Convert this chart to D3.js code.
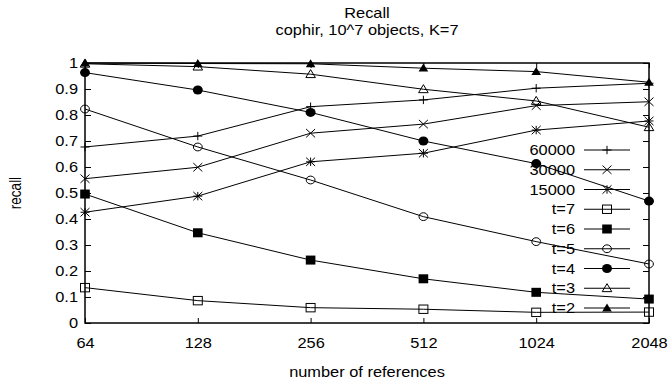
<!DOCTYPE html>
<html>
<head>
<meta charset="utf-8">
<script src="https://cdn.jsdelivr.net/npm/d3@7"></script>
<style>
  body { margin: 0; background: #fff; }
  svg { display: block; font-family: "Liberation Sans", Arial, sans-serif; }
</style>
</head>
<body>
<svg id="chart" width="668" height="386"></svg>
<script>
const refs = [64, 128, 256, 512, 1024, 2048];
const yTicks = [0, 0.1, 0.2, 0.3, 0.4, 0.5, 0.6, 0.7, 0.8, 0.9, 1];
const yTickLabels = ['0', '0.1', '0.2', '0.3', '0.4', '0.5', '0.6', '0.7', '0.8', '0.9', '1'];

const names = ['60000', '30000', '15000', 't=7', 't=6', 't=5', 't=4', 't=3', 't=2'];
const markers = ['plus', 'cross', 'star', 'squareOpen', 'squareFilled', 'circleOpen', 'circleFilled', 'triangleOpen', 'triangleFilled'];

const r60000 = [0.677, 0.719, 0.832, 0.858, 0.903, 0.922];
const r30000 = [0.555, 0.599, 0.730, 0.765, 0.836, 0.851];
const r15000 = [0.426, 0.488, 0.620, 0.653, 0.742, 0.777];
const t7 = [0.136, 0.086, 0.059, 0.053, 0.041, 0.042];
const t6 = [0.496, 0.347, 0.242, 0.170, 0.118, 0.092];
const t5 = [0.823, 0.677, 0.550, 0.409, 0.313, 0.227];
const t4 = [0.963, 0.896, 0.810, 0.700, 0.613, 0.469];
const t3 = [0.997, 0.986, 0.957, 0.899, 0.854, 0.753];
const t2 = [1.000, 0.998, 0.997, 0.980, 0.967, 0.926];
const seriesValues = [r60000, r30000, r15000, t7, t6, t5, t4, t3, t2];

const svg = d3.select('#chart');
const margin = { left: 85, right: 19, top: 63, bottom: 63 };
const width = 668, height = 386;
const FONT = 14.5;
const SX = 1.13; // the original text is a little wider than tall

const x = d3.scaleLog().base(2)
    .domain([64, 2048])
    .range([margin.left, width - margin.right]);
const y = d3.scaleLinear()
    .domain([0, 1])
    .range([height - margin.bottom, margin.top]);
const cx = (x.range()[0] + x.range()[1]) / 2;

function label(px, py, txt, anchor, size) {
    return svg.append('g')
        .attr('transform', `translate(${px},${py}) scale(${SX},1)`)
        .append('text')
        .attr('text-anchor', anchor)
        .attr('font-size', size || FONT)
        .text(txt);
}

// titles
label(cx, 18, 'Recall', 'middle');
label(cx, 35, 'cophir, 10^7 objects, K=7', 'middle');

// axis labels
label(cx, 377, 'number of references', 'middle');
svg.append('text')
    .attr('transform', `translate(21,${(y.range()[0] + y.range()[1]) / 2}) scale(1.2,1) rotate(-90)`)
    .attr('text-anchor', 'middle')
    .attr('font-size', 13.5)
    .text('recall');

// axes with inward ticks on all sides
function styleAxis(g) {
    g.select('.domain').remove();
    g.selectAll('.tick line').attr('stroke', '#000').attr('stroke-width', 1);
    g.selectAll('.tick text')
        .attr('font-size', FONT).attr('fill', '#000')
        .attr('font-family', '"Liberation Sans", Arial, sans-serif')
        .attr('transform', `scale(${SX},1)`);
}

svg.append('g')
    .attr('transform', `translate(${margin.left},0)`)
    .call(d3.axisLeft(y).tickValues(yTicks).tickFormat((d, i) => yTickLabels[i]).tickSize(-6).tickPadding(7 / SX))
    .call(styleAxis);
svg.append('g')
    .attr('transform', `translate(${width - margin.right},0)`)
    .call(d3.axisRight(y).tickValues(yTicks).tickFormat('').tickSize(-6))
    .call(styleAxis);
svg.append('g')
    .attr('transform', `translate(0,${height - margin.bottom})`)
    .call(d3.axisBottom(x).tickValues(refs).tickFormat(d3.format('d')).tickSize(-5).tickPadding(15))
    .call(styleAxis);
svg.append('g')
    .attr('transform', `translate(0,${margin.top})`)
    .call(d3.axisTop(x).tickValues(refs).tickFormat('').tickSize(-5))
    .call(styleAxis);

// frame
svg.append('rect')
    .attr('x', x.range()[0])
    .attr('y', y.range()[1])
    .attr('width', x.range()[1] - x.range()[0])
    .attr('height', y.range()[0] - y.range()[1])
    .attr('fill', 'none')
    .attr('stroke', '#000')
    .attr('stroke-width', 1.5);

// marker shapes (gnuplot-like point types)
function drawMarker(g, type) {
    const hx = 4.5, hy = 4.2;
    const filled = type.endsWith('Filled');
    if (type === 'plus' || type === 'cross' || type === 'star') {
        let d = '';
        if (type !== 'cross') d += `M${-hx},0H${hx}M0,${-hy}V${hy}`;
        if (type !== 'plus') d += `M${-hx},${-hy}L${hx},${hy}M${-hx},${hy}L${hx},${-hy}`;
        g.append('path').attr('d', d).attr('stroke', '#000').attr('fill', 'none');
    } else if (type.startsWith('square')) {
        const w = filled ? 9.6 : 9, h = filled ? 9 : 8.4;
        g.append('rect')
            .attr('x', -w / 2).attr('y', -h / 2).attr('width', w).attr('height', h)
            .attr('fill', filled ? '#000' : 'none').attr('stroke', filled ? 'none' : '#000');
    } else if (type.startsWith('circle')) {
        g.append('ellipse')
            .attr('rx', filled ? 5 : 4.4).attr('ry', filled ? 4.5 : 3.9)
            .attr('fill', filled ? '#000' : 'none').attr('stroke', filled ? 'none' : '#000');
    } else {
        const w = 4.8;
        g.append('path')
            .attr('d', `M0,-4.6L${w},3.4L${-w},3.4Z`)
            .attr('fill', filled ? '#000' : 'none').attr('stroke', filled ? 'none' : '#000');
    }
}

const line = d3.line()
    .x((d, i) => x(refs[i]))
    .y(d => y(d));

const plot = svg.append('g');
seriesValues.forEach((vals, si) => {
    plot.append('path')
        .datum(vals)
        .attr('d', line)
        .attr('fill', 'none')
        .attr('stroke', '#000')
        .attr('stroke-width', 1);
    plot.selectAll(null)
        .data(vals)
        .enter().append('g')
        .attr('transform', (d, i) => `translate(${x(refs[i])},${y(d)})`)
        .each(function () { drawMarker(d3.select(this), markers[si]); });
});

// legend
const legend = svg.append('g');
names.forEach((name, i) => {
    const ry = 150 + i * 19.75;
    label(575, ry, name, 'end').attr('dy', '0.36em');
    legend.append('line')
        .attr('x1', 584).attr('x2', 630)
        .attr('y1', ry).attr('y2', ry)
        .attr('stroke', '#000').attr('stroke-width', 1);
    drawMarker(legend.append('g').attr('transform', `translate(607,${ry})`), markers[i]);
});
</script>
</body>
</html>
